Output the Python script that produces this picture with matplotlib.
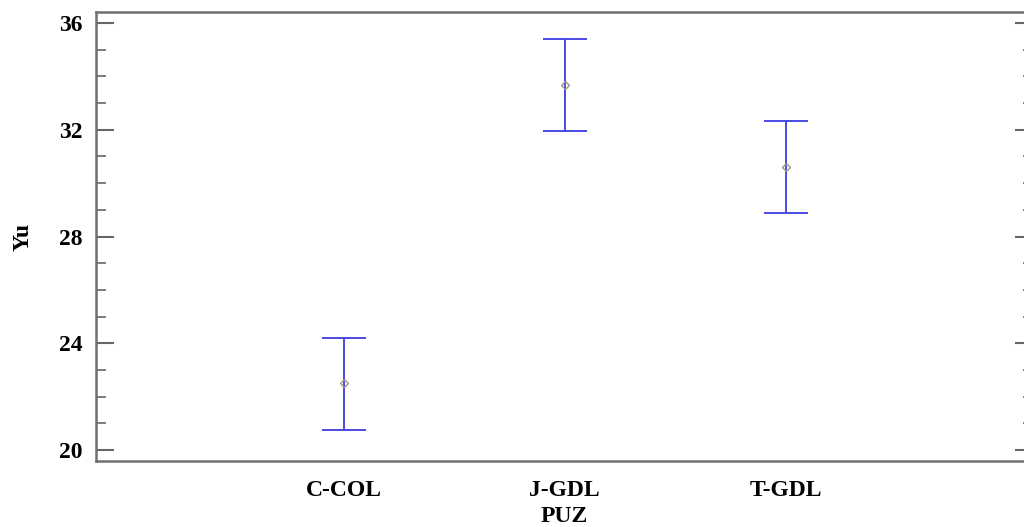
import numpy as np
import matplotlib.pyplot as plt
from matplotlib.ticker import MultipleLocator

# Datos
groups = ["C-COL", "J-GDL", "T-GDL"]
means = [22.52, 33.68, 30.61]
lower = [20.76, 31.96, 28.88]
upper = [24.20, 35.40, 32.33]

plt.rcParams['font.family'] = ['Liberation Serif', 'DejaVu Serif']

x = np.arange(1, len(groups) + 1)
err = [np.array(means) - np.array(lower), np.array(upper) - np.array(means)]

fig = plt.figure(figsize=(10.24, 5.27), dpi=100)
ax = fig.add_axes([0.0938, 0.1252, 0.915, 0.852])

ax.errorbar(x, means, yerr=err, fmt='none', ecolor='#4a4ae6',
            elinewidth=1.4, capsize=16, capthick=1.4)
ax.plot(x, means, 'D', ms=4.5, mfc='none', mec='#9a9a80', mew=1.0)

ax.set_xlim(-0.12, 4.12)
ax.set_ylim(19.59, 36.41)
ax.set_xticks(x)
ax.set_xticklabels(groups, fontsize=17, fontweight='bold')
ax.yaxis.set_major_locator(MultipleLocator(4))
ax.yaxis.set_minor_locator(MultipleLocator(1))
ax.tick_params(axis='x', length=0, pad=14)
ax.tick_params(axis='y', which='major', direction='in', length=13, width=1.5,
               color='#666666', labelsize=17, right=True, pad=10)
ax.tick_params(axis='y', which='minor', direction='in', length=7, width=1.2,
               color='#666666', right=True)
for lbl in ax.get_yticklabels():
    lbl.set_fontweight('bold')

for s in ax.spines.values():
    s.set_color('#707070')
    s.set_linewidth(1.8)

ax.set_xlabel("PUZ", fontsize=17, fontweight='bold', labelpad=3)
ax.set_ylabel("Yu", fontsize=17, fontweight='bold', labelpad=18)

fig.savefig("out.png", dpi=100)
